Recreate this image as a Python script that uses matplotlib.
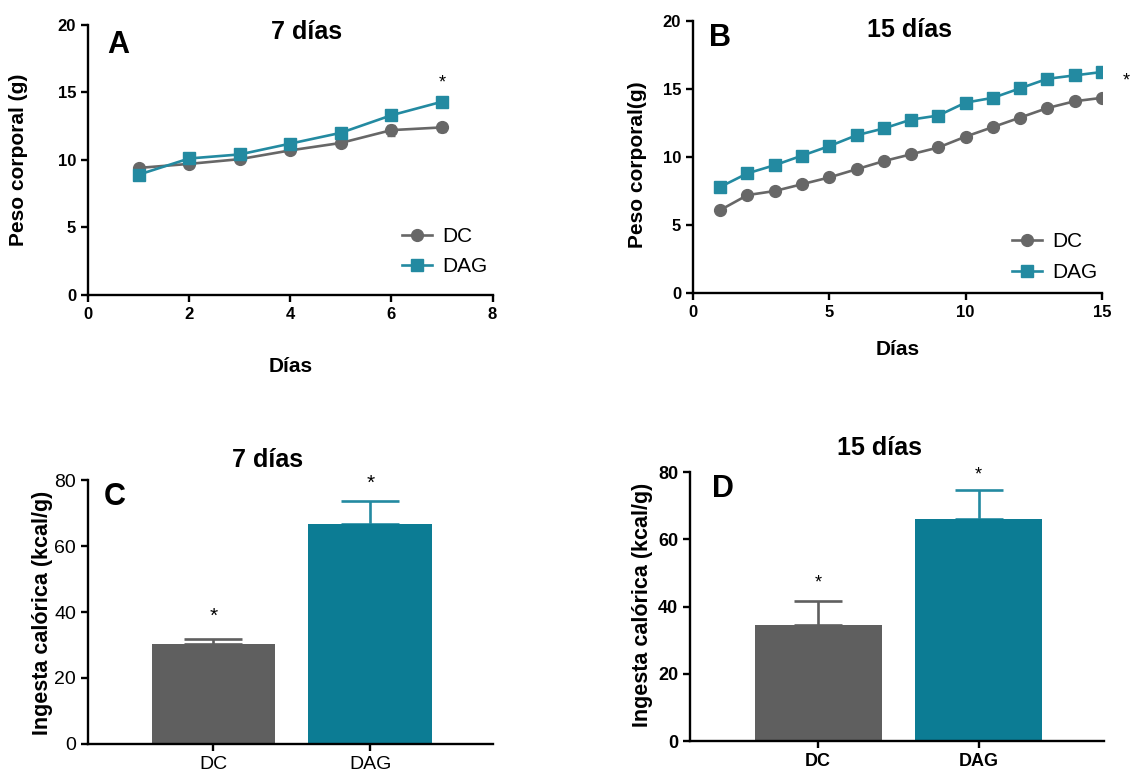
import numpy as np
import matplotlib.pyplot as plt
from matplotlib.lines import Line2D

plt.rcParams['font.family'] = ['Liberation Sans', 'DejaVu Sans']

# Datos peso corporal 7 dias
dias_7 = [1, 2, 3, 4, 5, 6, 7]
dc_7 = [9.4, 9.7, 10.05, 10.7, 11.25, 12.2, 12.4]
dc_7_err = [0.2, 0.2, 0.2, 0.2, 0.25, 0.4, 0.35]
dag_7 = [8.9, 10.1, 10.4, 11.2, 12.0, 13.3, 14.3]
dag_7_err = [0.2, 0.2, 0.2, 0.2, 0.2, 0.25, 0.3]

# Datos peso corporal 15 dias
dias_15 = list(range(1, 16))
dc_15 = [6.1, 7.2, 7.5, 8.0, 8.5, 9.1, 9.7, 10.2, 10.7, 11.5, 12.2, 12.9, 13.6, 14.1, 14.35]
dc_15_err = [0.15, 0.15, 0.15, 0.15, 0.15, 0.15, 0.15, 0.15, 0.15, 0.15, 0.3, 0.15, 0.15, 0.15, 0.15]
dag_15 = [7.8, 8.8, 9.4, 10.1, 10.8, 11.6, 12.1, 12.75, 13.05, 14.0, 14.35, 15.05, 15.75, 16.0, 16.25]
dag_15_err = [0.2, 0.2, 0.2, 0.2, 0.2, 0.2, 0.2, 0.2, 0.25, 0.35, 0.25, 0.2, 0.2, 0.2, 0.2]

# Ingesta calorica
grupos = ['DC', 'DAG']
ingesta_7 = [30.3, 66.7]
ingesta_7_err = [1.6, 6.9]
ingesta_15 = [34.4, 66.1]
ingesta_15_err = [7.3, 8.6]

gris = '#676767'
gris_barra = '#5f5f5f'
azul = '#238aa1'
azul_barra = '#0c7c94'

fig = plt.figure(figsize=(11.33, 7.74), dpi=100)
axA = fig.add_axes([0.0777, 0.619, 0.357, 0.349])
axB = fig.add_axes([0.6116, 0.6214, 0.361, 0.3515])
axC = fig.add_axes([0.0777, 0.0388, 0.357, 0.341])
axD = fig.add_axes([0.609, 0.0426, 0.365, 0.3475])


def estilo(ax, size=12, weight='bold'):
    for s in ['top', 'right']:
        ax.spines[s].set_visible(False)
    for s in ['left', 'bottom']:
        ax.spines[s].set_linewidth(1.7)
    ax.tick_params(width=1.7, length=5, labelsize=size)
    for lab in ax.get_xticklabels() + ax.get_yticklabels():
        lab.set_fontweight(weight)


def lineas(ax, x, dc, dc_err, dag, dag_err, leg_pos):
    ax.errorbar(x, dc, yerr=dc_err, color=gris, marker='o', markersize=8.5,
                linewidth=1.9, capsize=3, elinewidth=1.5, zorder=3)
    ax.errorbar(x, dag, yerr=dag_err, color=azul, marker='s', markersize=8.5,
                linewidth=1.9, capsize=3, elinewidth=1.5, zorder=4)
    ax.set_ylim(0, 20)
    ax.set_yticks([0, 5, 10, 15, 20])
    handles = [Line2D([], [], color=gris, marker='o', markersize=8.5, linewidth=1.9),
               Line2D([], [], color=azul, marker='s', markersize=8.5, linewidth=1.9)]
    ax.legend(handles, ['DC', 'DAG'], loc='center left', bbox_to_anchor=leg_pos,
              frameon=False, fontsize=15, handlelength=1.45, handletextpad=0.5,
              labelspacing=0.55, borderpad=0, borderaxespad=0)


# Panel A
lineas(axA, dias_7, dc_7, dc_7_err, dag_7, dag_7_err, (0.775, 0.16))
axA.set_xlim(0, 8)
axA.set_xticks([0, 2, 4, 6, 8])
axA.set_ylabel('Peso corporal (g)', fontsize=15, fontweight='bold')
axA.yaxis.set_label_coords(-0.148, 0.5)
axA.set_xlabel('Días', fontsize=15, fontweight='bold')
axA.xaxis.set_label_coords(0.5, -0.23)
axA.text(7, 15.7, '*', ha='center', va='center', fontsize=13)
axA.text(0.54, 0.974, '7 días', transform=axA.transAxes, ha='center', va='center',
         fontsize=18, fontweight='bold')
axA.text(0.074, 0.926, 'A', transform=axA.transAxes, ha='center', va='center',
         fontsize=22, fontweight='bold')
estilo(axA)

# Panel B
lineas(axB, dias_15, dc_15, dc_15_err, dag_15, dag_15_err, (0.78, 0.132))
axB.set_xlim(0, 15)
axB.set_xticks([0, 5, 10, 15])
axB.set_ylabel('Peso corporal(g)', fontsize=15, fontweight='bold')
axB.yaxis.set_label_coords(-0.112, 0.47)
axB.set_xlabel('Días', fontsize=15, fontweight='bold')
axB.xaxis.set_label_coords(0.5, -0.173)
axB.text(15.9, 15.6, '*', ha='center', va='center', fontsize=13, clip_on=False)
axB.text(0.53, 0.967, '15 días', transform=axB.transAxes, ha='center', va='center',
         fontsize=18, fontweight='bold')
axB.text(0.066, 0.9375, 'B', transform=axB.transAxes, ha='center', va='center',
         fontsize=22, fontweight='bold')
estilo(axB)


def barras(ax, vals, errs, capsize):
    x = np.arange(len(grupos))
    ax.bar(x, vals, width=0.79, color=[gris_barra, azul_barra], zorder=2)
    for xi, v, e, c in zip(x, vals, errs, [gris_barra, azul]):
        ax.errorbar(xi, v, yerr=[[0], [e]], color=c, capsize=capsize,
                    elinewidth=1.9, capthick=1.9, zorder=1)
    ax.set_xticks(x)
    ax.set_xticklabels(grupos)
    ax.set_xlim(-0.8, 1.78)
    ax.set_ylim(0, 80)
    ax.set_yticks([0, 20, 40, 60, 80])
    ax.set_ylabel('Ingesta calórica (kcal/g)', fontsize=15.5, fontweight='bold')


# Panel C
barras(axC, ingesta_7, ingesta_7_err, 21)
axC.yaxis.set_label_coords(-0.086, 0.496)
axC.text(0, 38.6, '*', ha='center', va='center', fontsize=15)
axC.text(1, 79, '*', ha='center', va='center', fontsize=15, clip_on=False)
axC.text(0.444, 1.076, '7 días', transform=axC.transAxes, ha='center', va='center',
         fontsize=18, fontweight='bold')
axC.text(0.067, 0.936, 'C', transform=axC.transAxes, ha='center', va='center',
         fontsize=22, fontweight='bold')
estilo(axC, size=14, weight='normal')

# Panel D
barras(axD, ingesta_15, ingesta_15_err, 17)
axD.yaxis.set_label_coords(-0.089, 0.506)
axD.text(0, 47, '*', ha='center', va='center', fontsize=13)
axD.text(1, 79, '*', ha='center', va='center', fontsize=13, clip_on=False)
axD.text(0.459, 1.089, '15 días', transform=axD.transAxes, ha='center', va='center',
         fontsize=18, fontweight='bold')
axD.text(0.08, 0.937, 'D', transform=axD.transAxes, ha='center', va='center',
         fontsize=22, fontweight='bold')
estilo(axD, size=13)

fig.savefig('out.png', dpi=100)
